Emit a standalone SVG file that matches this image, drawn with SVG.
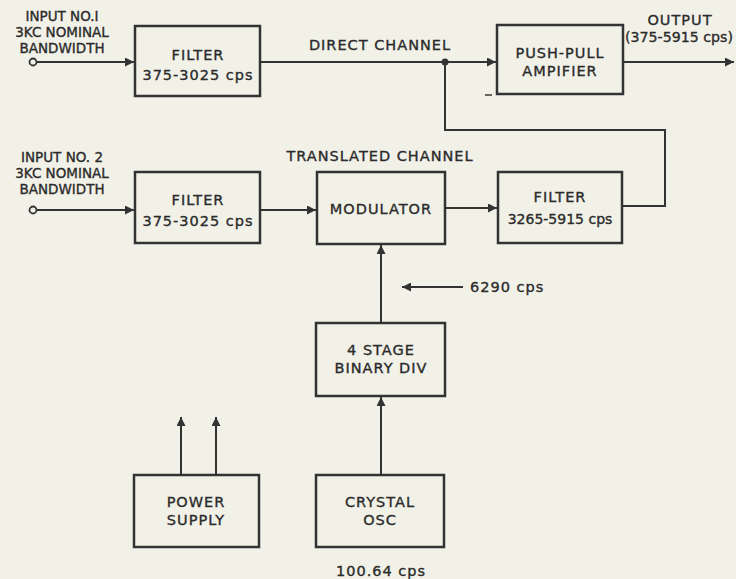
<svg xmlns="http://www.w3.org/2000/svg" width="736" height="579" viewBox="0 0 736 579">
<style>
.box{fill:none;stroke:#333;stroke-width:2.5}
.ln{fill:none;stroke:#333;stroke-width:2}
text{font-family:"DejaVu Sans","Liberation Sans",sans-serif;font-size:14.5px;fill:#2b2b2b;stroke:#2b2b2b;stroke-width:0.35;text-anchor:middle;letter-spacing:1px}
.in{font-size:13.5px;letter-spacing:0}
</style>
<defs>
<marker id="ahl" viewBox="0 0 10 10" refX="10" refY="5" markerWidth="14" markerHeight="9" markerUnits="userSpaceOnUse" orient="auto"><path d="M0,0 L10,5 L0,10 z" fill="#333"/></marker>
</defs>
<rect width="736" height="579" fill="#f2f1e8"/>
<g id="connectors">
<circle cx="33" cy="62" r="3.5" fill="none" stroke="#333" stroke-width="1.8"/>
<line class="ln" x1="37" y1="62" x2="134" y2="62" marker-end="url(#ahl)"/>
<line class="ln" x1="260" y1="62" x2="496" y2="62" marker-end="url(#ahl)"/>
<circle cx="445" cy="62" r="3.5" fill="#333"/>
<polyline class="ln" points="445,62 445,130 665,130 665,206 623,206"/>
<line class="ln" x1="623" y1="62" x2="734" y2="62" marker-end="url(#ahl)"/>
<circle cx="33" cy="210" r="3.5" fill="none" stroke="#333" stroke-width="1.8"/>
<line class="ln" x1="37" y1="210" x2="134" y2="210" marker-end="url(#ahl)"/>
<line class="ln" x1="260" y1="210" x2="316" y2="210" marker-end="url(#ahl)"/>
<line class="ln" x1="445" y1="208" x2="497" y2="208" marker-end="url(#ahl)"/>
<line class="ln" x1="381" y1="323" x2="381" y2="245" marker-end="url(#ahl)"/>
<line class="ln" x1="381" y1="475" x2="381" y2="397" marker-end="url(#ahl)"/>
<line class="ln" x1="181" y1="475" x2="181" y2="417" marker-end="url(#ahl)"/>
<line class="ln" x1="216" y1="475" x2="216" y2="417" marker-end="url(#ahl)"/>
<line class="ln" x1="463" y1="287" x2="402" y2="287" marker-end="url(#ahl)"/>
<line x1="485" y1="95" x2="492" y2="95" stroke="#333" stroke-width="1.5"/>
</g>
<g id="labels">
<text class="in" x="62" y="21">INPUT NO.I</text>
<text class="in" x="62" y="37">3KC NOMINAL</text>
<text class="in" x="62" y="53">BANDWIDTH</text>
<text class="in" x="62" y="162">INPUT NO. 2</text>
<text class="in" x="62" y="178">3KC NOMINAL</text>
<text class="in" x="62" y="194">BANDWIDTH</text>
<text x="380" y="50">DIRECT CHANNEL</text>
<text x="680" y="25">OUTPUT</text>
<text x="679" y="42" style="letter-spacing:0" textLength="108" lengthAdjust="spacingAndGlyphs">(375-5915 cps)</text>
<text x="380" y="161">TRANSLATED CHANNEL</text>
<text x="470" y="292" style="text-anchor:start">6290 cps</text>
<text x="381" y="576">100.64 cps</text>
</g>
<g id="filter1"><rect class="box" x="135" y="26" width="125" height="70"/><text x="198" y="60">FILTER</text><text x="198" y="80">375-3025 cps</text></g>
<g id="pushpull"><rect class="box" x="497" y="25" width="126" height="69"/><text x="560" y="58">PUSH-PULL</text><text x="560" y="76">AMPIFIER</text></g>
<g id="filter2"><rect class="box" x="135" y="172" width="125" height="71"/><text x="198" y="205">FILTER</text><text x="198" y="226">375-3025 cps</text></g>
<g id="modulator"><rect class="box" x="317" y="172" width="128" height="72"/><text x="381" y="214">MODULATOR</text></g>
<g id="filter3"><rect class="box" x="498" y="172" width="124" height="71"/><text x="560" y="202">FILTER</text><text x="560" y="224" style="letter-spacing:0;font-size:14px">3265-5915 cps</text></g>
<g id="binarydiv"><rect class="box" x="316" y="323" width="129" height="73"/><text x="381" y="355">4 STAGE</text><text x="381" y="373">BINARY DIV</text></g>
<g id="powersupply"><rect class="box" x="134" y="475" width="125" height="72"/><text x="196" y="507">POWER</text><text x="196" y="525">SUPPLY</text></g>
<g id="crystalosc"><rect class="box" x="316" y="475" width="128" height="72"/><text x="380" y="507">CRYSTAL</text><text x="380" y="525">OSC</text></g>
</svg>
